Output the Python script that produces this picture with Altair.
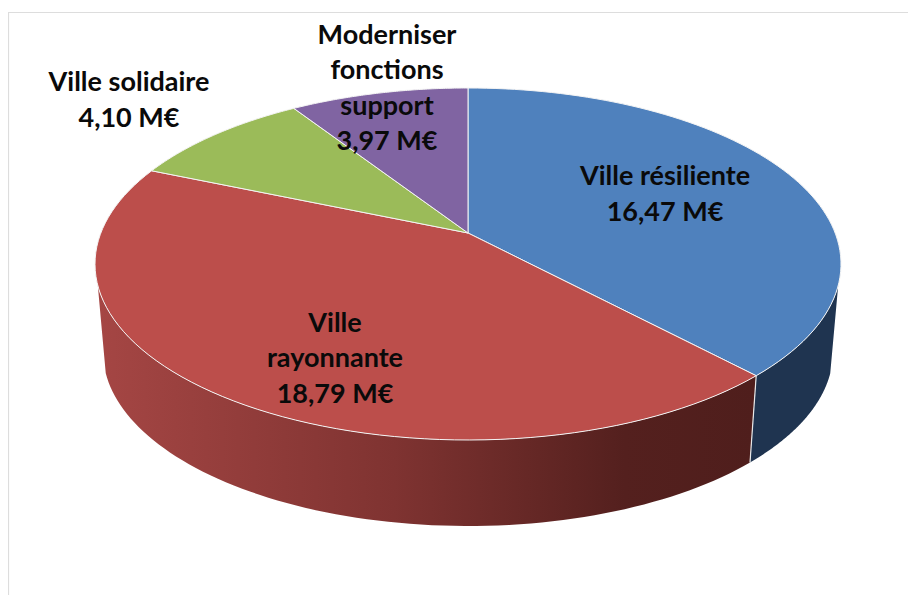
import math
import altair as alt

names = ["Ville résiliente", "Ville rayonnante", "Ville solidaire", "Moderniser fonctions support"]
values = [16.47, 18.79, 4.10, 3.97]
top_colors = ["#4F81BD", "#BC4E4B", "#9BBB59", "#8064A2"]
label_lines = [["Ville résiliente"], ["Ville", "rayonnante"], ["Ville solidaire"], ["Moderniser", "fonctions", "support"]]
label_pos = [(665, 177), (335, 323.5), (129, 83), (387, 35.5)]

PX, PY = 8, 8
CX, CY, RX, RY = 468, 264, 373, 176
APEX_SHIFT = 31
BOT_CY, BOT_RX, BOT_RY = 352, 365, 174
WALL_LEFT, WALL_RIGHT = 253, 107

c = APEX_SHIFT / RY
tilt = RY / RX


def rim(theta):
    t = math.radians(theta)
    X, Y = math.sin(t), math.cos(t)
    d = 1 + c * Y
    return math.sqrt(1 - c * c) * X / d, (Y + c) / d


def top_pt(theta):
    u, v = rim(theta)
    return [u, v * tilt]


def bottom_pt(theta):
    u, v = rim(theta)
    return [u * BOT_RX / RX, (v * BOT_RY - (BOT_CY - CY)) / RX]


def steps(a, b, n=80):
    return [a + (b - a) * i / n for i in range(n + 1)]


def feature(geom_type, coords):
    return {"type": "Feature", "properties": {}, "geometry": {"type": geom_type, "coordinates": coords}}


projection = dict(type="identity", scale=RX, translate=[CX - PX, CY - PY], reflectY=True)


def shape(feat, **mark):
    return alt.Chart(alt.Data(values=[feat])).mark_geoshape(**mark).project(**projection)


total = sum(values)
edges = [0.0]
for v in values:
    edges.append(edges[-1] + v / total * 360)

apex = [0.0, c * tilt]


def wall(a, b):
    ring = [top_pt(t) for t in steps(a, b)] + [bottom_pt(t) for t in steps(b, a)]
    return feature("Polygon", [ring + [ring[0]]])


layers = []

red_gradient = alt.LinearGradient(
    gradient="linear", x1=0, x2=1, y1=0, y2=0,
    stops=[
        alt.GradientStop(offset=0, color="#A54644"),
        alt.GradientStop(offset=0.45, color="#7F3331"),
        alt.GradientStop(offset=0.8, color="#54201E"),
        alt.GradientStop(offset=1, color="#4F1E1C"),
    ],
)
layers.append(shape(wall(edges[1], WALL_LEFT), fill=red_gradient, strokeWidth=0))
layers.append(shape(wall(WALL_RIGHT, edges[1]), fill="#1F3450", strokeWidth=0))
layers.append(shape(feature("LineString", [top_pt(edges[1]), bottom_pt(edges[1])]),
                    filled=False, stroke="#E8E8E8", strokeWidth=1.2))

for i, col in enumerate(top_colors):
    ring = [apex] + [top_pt(t) for t in steps(edges[i], edges[i + 1])] + [apex]
    layers.append(shape(feature("Polygon", [ring]), fill=col, stroke="#F4F4F4", strokeWidth=1))

frame_color = "#DDDDDD"
layers.append(alt.Chart(alt.Data(values=[{}])).mark_rule(color=frame_color, strokeWidth=1.2).encode(
    x=alt.value(0), x2=alt.value(900), y=alt.value(4.5)))
layers.append(alt.Chart(alt.Data(values=[{}])).mark_rule(color=frame_color, strokeWidth=1.2).encode(
    x=alt.value(0.5), y=alt.value(4), y2=alt.value(587)))

LINE_H = 35.5
for name_lines, val, (lx, ly) in zip(label_lines, values, label_pos):
    text = name_lines + [f"{val:.2f}".replace(".", ",") + " M€"]
    layers.append(alt.Chart(alt.Data(values=[{"t": "\n".join(text)}])).mark_text(
        font="Lato", fontSize=27, fontWeight="bold", color="#0A0A0A", align="center",
        baseline="middle", lineBreak="\n", lineHeight=LINE_H,
    ).encode(
        text="t:N",
        x=alt.value(lx - PX),
        y=alt.value(ly - PY),
    ))

chart = alt.layer(*layers).properties(
    width=900, height=587, padding=0,
    autosize=alt.AutoSizeParams(type="none"),
    background="white",
).configure_view(stroke=None)

chart.save("out.html", embed_options={"renderer": "svg", "actions": False})
